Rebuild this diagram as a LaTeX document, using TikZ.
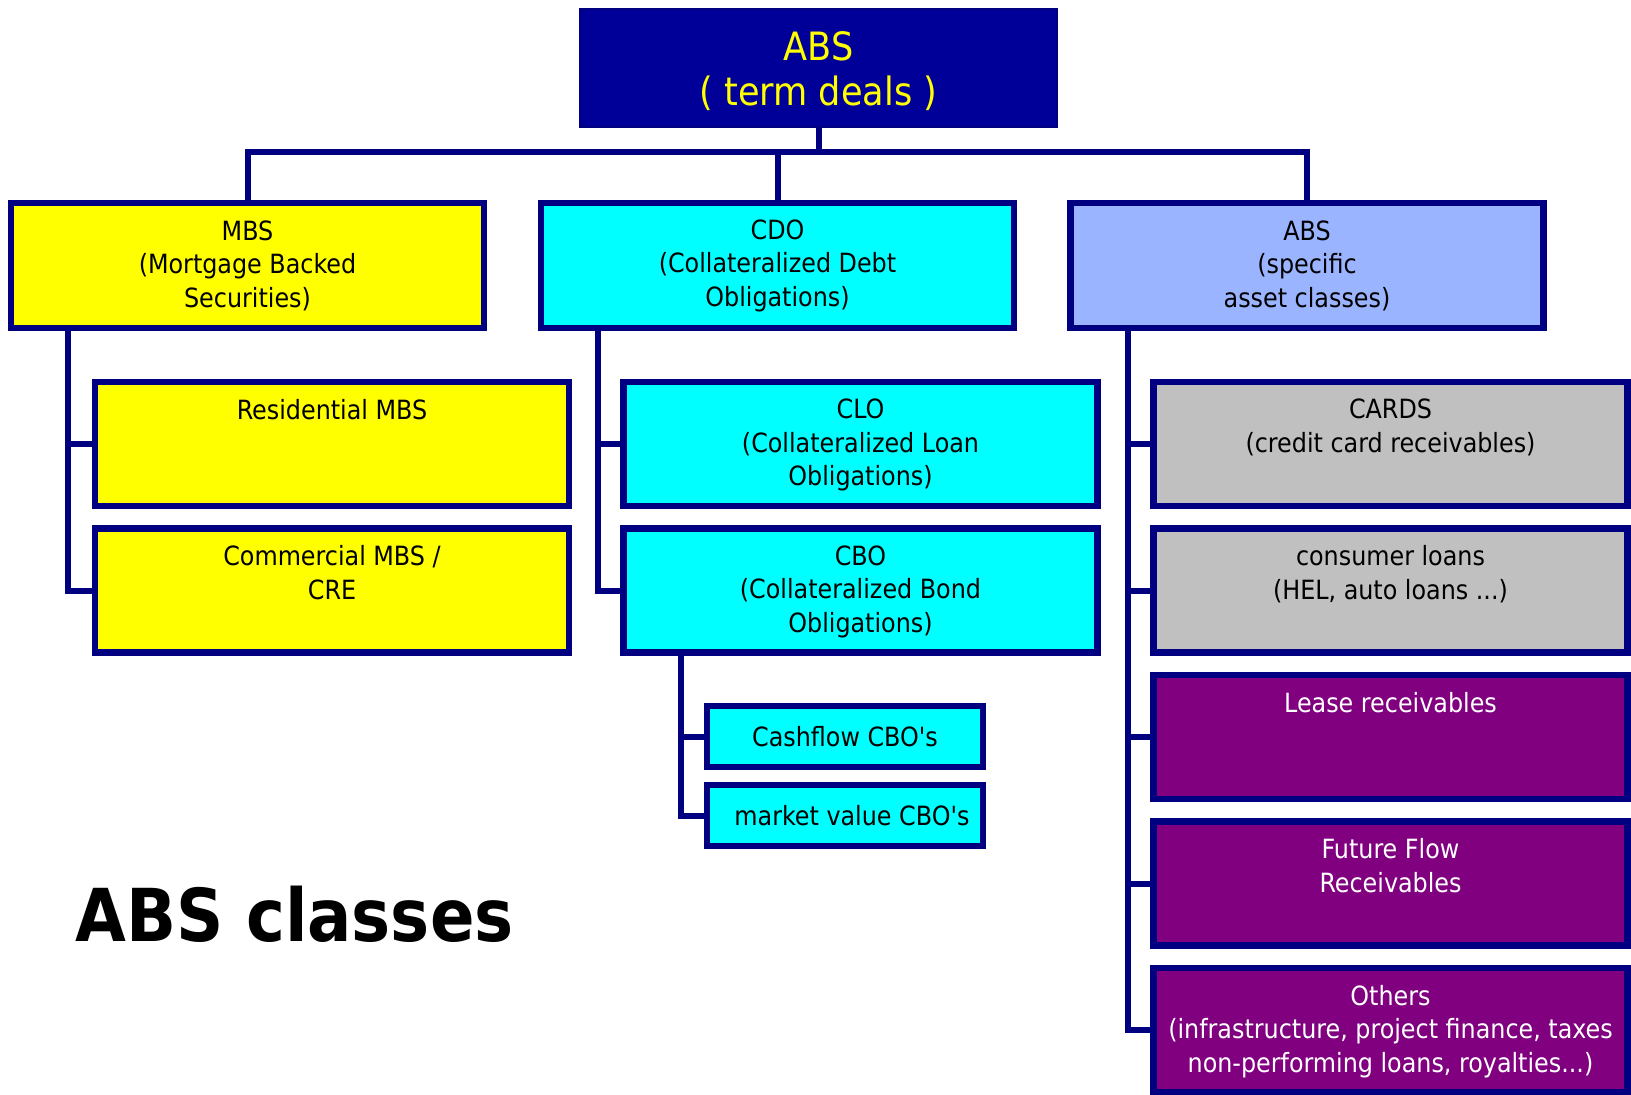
\documentclass[tikz,border=0pt]{standalone}
\usepackage{fontspec}
\setmainfont{DejaVu Sans Condensed}[Ligatures=TeXOff]
\definecolor{navy}{RGB}{0,0,128}
\definecolor{topblue}{RGB}{0,0,153}
\definecolor{boxyellow}{RGB}{255,255,0}
\definecolor{boxcyan}{RGB}{0,255,255}
\definecolor{absblue}{RGB}{155,180,255}
\definecolor{boxgray}{RGB}{192,192,192}
\definecolor{boxpurple}{RGB}{128,0,128}
\newcommand\boxfont{\fontsize{26.5}{33.5}\selectfont}
\newcommand\headfont{\fontsize{39}{45.5}\selectfont}
\newcommand\titlefont{\fontsize{73}{80}\selectfont\bfseries}
\begin{document}
\begin{tikzpicture}[x=1pt,y=-1pt,
  frame/.style={draw=navy, line width=6.5pt, inner sep=0pt, outer sep=0pt, align=center, font=\boxfont},
  headbox/.style={draw=navy, line width=2pt, fill=topblue, inner sep=0pt, outer sep=0pt,
    minimum width=477pt, minimum height=118pt},
  headtxt/.style={inner sep=0pt, text=boxyellow, align=center, font=\headfont},
  l1box/.style={frame, minimum width=473pt, minimum height=125pt},
  l2box/.style={frame, minimum width=474pt, minimum height=124pt},
  l3box/.style={frame, minimum width=276pt, minimum height=61pt, fill=boxcyan},
  l2txt/.style={inner sep=0pt, anchor=north, align=center, font=\boxfont},
  conn/.style={draw=navy, line width=6pt}
]
\useasboundingbox (0,0) rectangle (1631,1095);
\fill[white] (0,0) rectangle (1631,1095);

% root and first level
\node[headbox] (top) at (818.5,68) {};
\node[headtxt] (top-t) at ([yshift=-3pt]top.center) {ABS\\( term deals )};
\node[l1box, fill=boxyellow] (mbs) at (247.5,265.5) {MBS\\(Mortgage Backed\\Securities)};
\node[l1box, fill=boxcyan] (cdo) at (777.5,265.5) {CDO\\(Collateralized Debt\\Obligations)};
\node[l1box, fill=absblue] (abs) at (1307,265.5) {ABS\\(specific\\asset classes)};

% MBS branch
\node[l2box, fill=boxyellow] (res) at (332,444) {};
\node[l2txt] (res-t) at ([yshift=-17pt]res.north) {Residential MBS};
\node[l2box, fill=boxyellow] (cre) at (332,590.5) {};
\node[l2txt] (cre-t) at ([yshift=-17pt]cre.north) {Commercial MBS /\\CRE};

% CDO branch
\node[l2box, fill=boxcyan] (clo) at (860.5,444) {};
\node[l2txt] (clo-t) at ([yshift=-17pt]clo.north) {CLO\\(Collateralized Loan\\Obligations)};
\node[l2box, fill=boxcyan] (cbo) at (860.5,590.5) {};
\node[l2txt] (cbo-t) at ([yshift=-17pt]cbo.north) {CBO\\(Collateralized Bond\\Obligations)};
\node[l3box] (cash) at (845,736.5) {Cashflow CBO's};
\node[l3box] (mkt) at (845,815.5) {\hspace*{14pt}market value CBO's};

% ABS branch
\node[l2box, fill=boxgray] (cards) at (1390.5,444) {};
\node[l2txt] (cards-t) at ([yshift=-17pt]cards.north) {CARDS\\(credit card receivables)};
\node[l2box, fill=boxgray] (cons) at (1390.5,590.5) {};
\node[l2txt] (cons-t) at ([yshift=-17pt]cons.north) {consumer loans\\(HEL, auto loans ...)};
\node[l2box, fill=boxpurple] (lease) at (1390.5,737) {};
\node[l2txt, text=white] (lease-t) at ([yshift=-17pt]lease.north) {Lease receivables};
\node[l2box, fill=boxpurple] (ffr) at (1390.5,883.5) {};
\node[l2txt, text=white] (ffr-t) at ([yshift=-17pt]ffr.north) {Future Flow\\Receivables};
\node[l2box, fill=boxpurple] (oth) at (1390.5,1030) {};
\node[l2txt, text=white] (oth-t) at ([yshift=-17pt]oth.north) {Others\\(infrastructure, project finance, taxes\\non-performing loans, royalties...)};

% caption
\node[font=\titlefont, anchor=base west, inner sep=0pt] (title) at (75,941) {ABS classes};

% connectors
\draw[conn] (top.south) -- ++(0,25) coordinate (bus);
\draw[conn] (mbs.north) |- (bus) -| (abs.north);
\draw[conn] (cdo.north) -- (cdo.north |- bus);
\draw[conn] ([xshift=57pt]mbs.south west) |- (res.west);
\draw[conn] ([xshift=57pt]mbs.south west) |- (cre.west);
\draw[conn] ([xshift=57pt]cdo.south west) |- (clo.west);
\draw[conn] ([xshift=57pt]cdo.south west) |- (cbo.west);
\draw[conn] ([xshift=57pt]cbo.south west) |- (cash.west);
\draw[conn] ([xshift=57pt]cbo.south west) |- (mkt.west);
\foreach \c in {cards,cons,lease,ffr,oth}
  \draw[conn] ([xshift=57pt]abs.south west) |- (\c.west);
\end{tikzpicture}
\end{document}
